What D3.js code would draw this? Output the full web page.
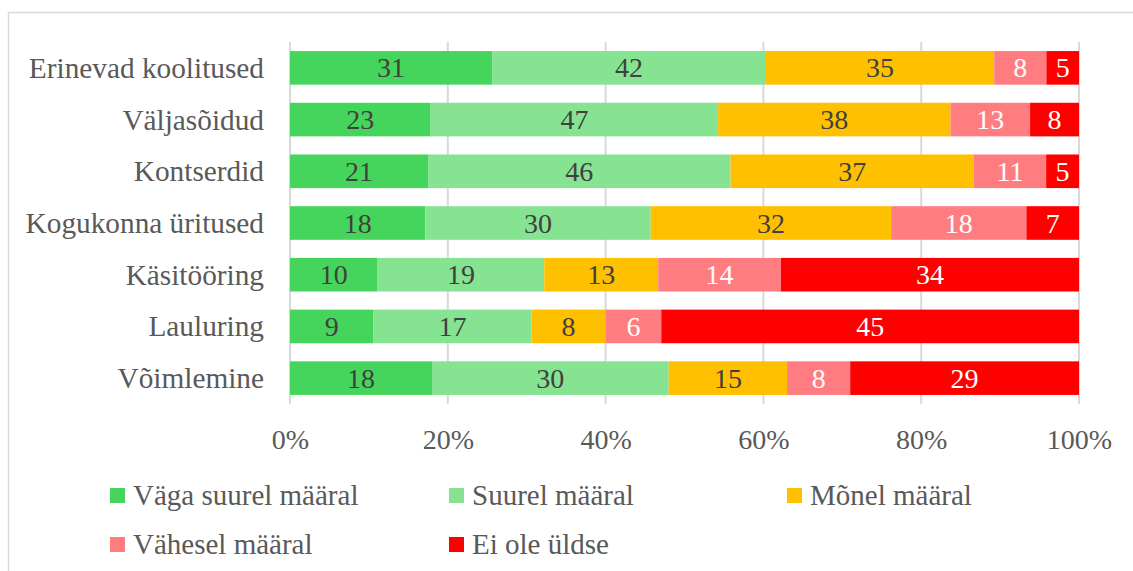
<!DOCTYPE html>
<html>
<head>
<meta charset="utf-8">
<script src="https://cdn.jsdelivr.net/npm/d3@7"></script>
<style>
  html, body { margin: 0; padding: 0; background: #fff; }
</style>
</head>
<body>
<svg id="chart"></svg>
<script>
// Categories (top to bottom)
var categories = ["Erinevad koolitused", "Väljasõidud", "Kontserdid", "Kogukonna üritused",
                  "Käsitööring", "Lauluring", "Võimlemine"];

// Series (answer options)
var seriesNames = ["Väga suurel määral", "Suurel määral", "Mõnel määral", "Vähesel määral", "Ei ole üldse"];

var vagaSuurel = [31, 23, 21, 18, 10, 9, 18];
var suurel     = [42, 47, 46, 30, 19, 17, 30];
var monel      = [35, 38, 37, 32, 13, 8, 15];
var vahesel    = [8, 13, 11, 18, 14, 6, 8];
var eiOle      = [5, 8, 5, 7, 34, 45, 29];

var tickValues = [0, 0.2, 0.4, 0.6, 0.8, 1];

var colors = ["#46d55c", "#86e391", "#ffc000", "#ff7c80", "#ff0000"];
var labelColors = ["#404040", "#404040", "#404040", "#ffffff", "#ffffff"];

var FONT = "'Liberation Serif', 'Times New Roman', Tinos";

var width = 1133, height = 571;
var plot = { left: 290, right: 1079, top: 42, bottom: 404 };

var svg = d3.select("#chart")
            .attr("width", width)
            .attr("height", height);

// outer chart border
svg.append("rect")
   .attr("x", 8.5)
   .attr("y", 12.5)
   .attr("width", 1200)
   .attr("height", 700)
   .attr("fill", "none")
   .attr("stroke", "#d9d9d9")
   .attr("stroke-width", 1.5);

var table = categories.map(function(c, i) {
    return {
        category: c,
        "Väga suurel määral": vagaSuurel[i],
        "Suurel määral": suurel[i],
        "Mõnel määral": monel[i],
        "Vähesel määral": vahesel[i],
        "Ei ole üldse": eiOle[i]
    };
});

var stacked = d3.stack()
                .keys(seriesNames)
                .offset(d3.stackOffsetExpand)(table);

var x = d3.scaleLinear()
          .domain([0, 1])
          .range([plot.left, plot.right]);

var y = d3.scaleBand()
          .domain(categories)
          .range([plot.top, plot.bottom])
          .paddingInner(0.35)
          .paddingOuter(0.175);

// gridlines
svg.append("g")
   .selectAll("line")
   .data(tickValues)
   .enter()
   .append("line")
     .attr("x1", d => x(d))
     .attr("x2", d => x(d))
     .attr("y1", plot.top)
     .attr("y2", plot.bottom)
     .attr("stroke", "#d9d9d9")
     .attr("stroke-width", 2);

// bars
var layers = svg.append("g")
   .selectAll("g")
   .data(stacked)
   .enter()
   .append("g")
     .attr("fill", (d, i) => colors[i]);

layers.selectAll("rect")
      .data(d => d)
      .enter()
      .append("rect")
        .attr("x", d => x(d[0]))
        .attr("y", d => y(d.data.category))
        .attr("width", d => x(d[1]) - x(d[0]))
        .attr("height", y.bandwidth());

// data labels
var labels = svg.append("g")
   .selectAll("g")
   .data(stacked)
   .enter()
   .append("g")
     .attr("fill", (d, i) => labelColors[i]);

labels.selectAll("text")
      .data(d => d.map(p => ({ p: p, key: d.key })))
      .enter()
      .append("text")
        .attr("x", d => (x(d.p[0]) + x(d.p[1])) / 2)
        .attr("y", d => y(d.p.data.category) + y.bandwidth() / 2)
        .attr("dy", "0.34em")
        .attr("text-anchor", "middle")
        .style("font-family", FONT)
        .style("font-size", "28px")
        .text(d => d.p.data[d.key]);

// category axis labels
svg.append("g")
   .selectAll("text")
   .data(categories)
   .enter()
   .append("text")
     .attr("x", 264)
     .attr("y", d => y(d) + y.bandwidth() / 2)
     .attr("dy", "0.34em")
     .attr("text-anchor", "end")
     .style("font-family", FONT)
     .style("font-size", "29.3px")
     .attr("fill", "#595959")
     .text(d => d);

// percent axis
var xAxis = d3.axisBottom(x)
              .tickValues(tickValues)
              .tickFormat(d3.format(".0%"))
              .tickSize(0)
              .tickPadding(0);

var axisG = svg.append("g")
   .attr("transform", "translate(0," + 449 + ")")
   .call(xAxis);

axisG.select(".domain").remove();
axisG.selectAll("text")
     .attr("dy", 0)
     .attr("y", 0)
     .style("font-family", FONT)
     .style("font-size", "28px")
     .attr("fill", "#595959");

// legend
var legendPos = [[110, 488], [449, 488], [787, 488], [110, 537], [449, 537]];

var legend = svg.append("g")
   .selectAll("g")
   .data(seriesNames)
   .enter()
   .append("g")
     .attr("transform", (d, i) => "translate(" + legendPos[i][0] + "," + legendPos[i][1] + ")");

legend.append("rect")
      .attr("width", 15)
      .attr("height", 15)
      .attr("fill", (d, i) => colors[i]);

legend.append("text")
      .attr("x", 23)
      .attr("y", 17)
      .style("font-family", FONT)
      .style("font-size", "29px")
      .attr("fill", "#595959")
      .text(d => d);
</script>
</body>
</html>
